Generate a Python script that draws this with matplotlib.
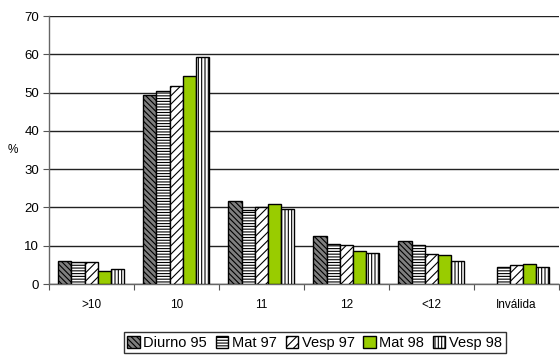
import numpy as np
import matplotlib.pyplot as plt
from matplotlib.ticker import FixedLocator, NullFormatter

plt.rcParams["font.family"] = ["Liberation Sans", "DejaVu Sans"]
plt.rcParams["font.size"] = 9.5
plt.rcParams["hatch.linewidth"] = 0.8

categories = [">10", "10", "11", "12", "<12", "Inválida"]
series = ["Diurno 95", "Mat 97", "Vesp 97", "Mat 98", "Vesp 98"]
diurno_95 = [6.0, 49.3, 21.7, 12.5, 11.3, 0.0]
mat_97 = [5.7, 50.4, 19.3, 10.4, 10.1, 4.5]
vesp_97 = [5.7, 51.7, 20.2, 10.2, 7.9, 5.1]
mat_98 = [3.4, 54.4, 21.0, 8.7, 7.6, 5.3]
vesp_98 = [3.9, 59.2, 19.5, 8.1, 6.0, 4.5]

values = [diurno_95, mat_97, vesp_97, mat_98, vesp_98]
faces = ["#7f7f7f", "white", "white", "#99cc00", "white"]
hatches = ["\\\\\\\\\\\\", "------", "////", "", "|||||"]

fig = plt.figure(figsize=(5.6, 3.56), dpi=100)
ax = fig.add_axes([0.087, 0.202, 0.911, 0.753])

x = np.arange(len(categories))
w = 0.155
for i, (name, vals) in enumerate(zip(series, values)):
    # empty categories get no bar outline
    heights = np.where(np.array(vals) > 0, vals, np.nan)
    ax.bar(x + (i - 2) * w, heights, w, color=faces[i], hatch=hatches[i],
           edgecolor="black", linewidth=1.0, label=name, zorder=3)

ax.set_xlim(-0.5, len(categories) - 0.5)
ax.set_ylim(0, 70)
ax.set_yticks(range(0, 71, 10))
ax.yaxis.grid(True, color="#222222", linewidth=1.0, zorder=0)

# category boundaries get ticks, labels sit at the centres
ax.xaxis.set_major_locator(FixedLocator(np.arange(-0.5, len(categories))))
ax.xaxis.set_major_formatter(NullFormatter())
ax.xaxis.set_minor_locator(FixedLocator(x))
ax.set_xticklabels(categories, minor=True, fontsize=8.5)
ax.tick_params(axis="x", which="minor", length=0, pad=11)
ax.tick_params(axis="x", which="major", length=4, color="#555555")
ax.tick_params(axis="y", length=4, color="#555555", pad=3)

for s in ["top", "right"]:
    ax.spines[s].set_visible(False)
for s in ["left", "bottom"]:
    ax.spines[s].set_color("#666666")
    ax.spines[s].set_linewidth(1.0)

ax.set_ylabel("%", rotation=0, labelpad=8, va="center", fontsize=8.5)

fig.legend(loc="center", bbox_to_anchor=(0.562, 0.037), ncol=5,
           frameon=True, fancybox=False, edgecolor="black",
           handlelength=0.85, handleheight=0.85, handletextpad=0.25,
           columnspacing=0.6, borderpad=0.25, fontsize=10.5)

plt.savefig("out.png")
